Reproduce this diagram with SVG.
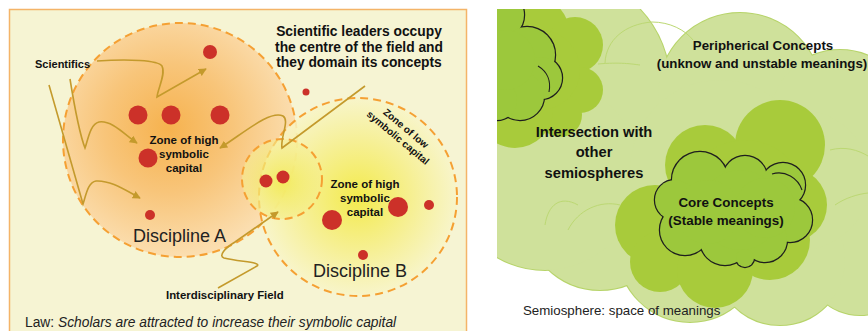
<svg xmlns="http://www.w3.org/2000/svg" width="868" height="331" viewBox="0 0 868 331">
  <style>
    .b { font-family: "Liberation Sans", Arial, sans-serif; font-weight: bold; fill: #111; }
    .r { font-family: "Liberation Sans", Arial, sans-serif; fill: #222; }
    .dash { fill: none; stroke: #f5a033; stroke-width: 2; stroke-dasharray: 8 5; }
    .dot { fill: #cc3129; }
    .arw { fill: none; stroke: #c49a2c; stroke-width: 1.6; stroke-linejoin: miter; }
    .lightS circle { fill: none; stroke: #b7d46a; stroke-width: 2; }
    .lightF circle { fill: #cfe19b; }
    .midF circle { fill: #a8cb3b; }
    .coreS circle { fill: none; stroke: #1e1e1e; stroke-width: 2.4; }
    .coreF circle { fill: #9cc83c; }
    .inner { fill: none; stroke: #bcd873; stroke-width: 1; }
    .innerD { fill: none; stroke: #1e1e1e; stroke-width: 1.1; }
  </style>
  <defs>
    <radialGradient id="gA" cx="0.45" cy="0.45" r="0.55">
      <stop offset="0" stop-color="#f6b24e"/>
      <stop offset="0.5" stop-color="#f8c57a"/>
      <stop offset="1" stop-color="#fbdeb0"/>
    </radialGradient>
    <radialGradient id="gB" cx="0.5" cy="0.5" r="0.5">
      <stop offset="0" stop-color="#f3ea45" stop-opacity="0.95"/>
      <stop offset="0.55" stop-color="#f6ef8c" stop-opacity="0.9"/>
      <stop offset="1" stop-color="#f8f5c8" stop-opacity="0.85"/>
    </radialGradient>
    <radialGradient id="gC" cx="0.5" cy="0.55" r="0.5">
      <stop offset="0" stop-color="#f2ea50" stop-opacity="0.85"/>
      <stop offset="1" stop-color="#f5ee90" stop-opacity="0.6"/>
    </radialGradient>
    <marker id="ah" viewBox="0 0 10 10" refX="9" refY="5" markerWidth="5" markerHeight="5" orient="auto" markerUnits="strokeWidth">
      <path d="M0,0 L10,5 L0,10 Z" fill="#c49a2c"/>
    </marker>
    <clipPath id="rp">
      <rect x="497" y="9" width="371" height="322"/>
    </clipPath>
  </defs>

  <rect width="868" height="331" fill="#ffffff"/>

  <!-- Left panel: disciplines as fields of symbolic capital -->
  <rect x="9.5" y="9.5" width="457" height="335" fill="#f6f4d3" stroke="#f4b468" stroke-width="1.5"/>

  <g id="disciplineA">
    <circle cx="180" cy="140" r="117" fill="url(#gA)"/>
    <circle class="dash" cx="180" cy="140" r="117"/>
  </g>
  <g id="disciplineB">
    <circle cx="358" cy="197" r="99" fill="url(#gB)"/>
    <circle class="dash" cx="358" cy="197" r="99"/>
  </g>
  <g id="interdisciplinary">
    <circle cx="282" cy="179" r="40" fill="url(#gC)"/>
    <circle class="dash" cx="282" cy="179" r="40"/>
  </g>

  <g id="actors">
    <circle class="dot" cx="210" cy="52" r="7"/>
    <circle class="dot" cx="138" cy="115" r="9.5"/>
    <circle class="dot" cx="171" cy="115" r="9.5"/>
    <circle class="dot" cx="220" cy="115" r="9.5"/>
    <circle class="dot" cx="148" cy="158" r="9.5"/>
    <circle class="dot" cx="150" cy="215" r="5"/>
    <circle class="dot" cx="306" cy="92" r="3.5"/>
    <circle class="dot" cx="266" cy="181" r="6.5"/>
    <circle class="dot" cx="283" cy="177" r="6.5"/>
    <circle class="dot" cx="332" cy="220" r="10"/>
    <circle class="dot" cx="398" cy="207" r="10"/>
    <circle class="dot" cx="429" cy="205" r="5"/>
    <circle class="dot" cx="363" cy="255" r="5"/>
  </g>

  <g id="connectors">
    <path class="arw" marker-end="url(#ah)" d="M97,61 C128,59 158,60 162,66 C166,74 158,88 157,97 L206,69"/>
    <path class="arw" marker-end="url(#ah)" d="M70,79 C75,110 80,135 85,148 C88,140 90,124 99,122 C112,120 125,135 137,143"/>
    <path class="arw" marker-end="url(#ah)" d="M49,85 L83,204 C86,195 88,182 96,181 C110,180 125,190 140,198"/>
    <path class="arw" marker-end="url(#ah)" d="M365,86 L282,148 C280,138 290,120 283,116 C270,110 245,132 220,148"/>
    <path class="arw" marker-end="url(#ah)" d="M218,288 L257,266 C262,262 240,262 224,258 C218,256 225,248 235,242 L278,212"/>
  </g>

  <g id="labelsLeft">
    <text class="b" x="35" y="68" font-size="11">Scientifics</text>
    <text class="b" x="359" y="36" font-size="13.8" text-anchor="middle">Scientific leaders occupy</text>
    <text class="b" x="359" y="52" font-size="13.8" text-anchor="middle">the centre of the field and</text>
    <text class="b" x="359" y="67" font-size="13.8" text-anchor="middle">they domain its concepts</text>
    <text class="b" x="184" y="144" font-size="11.5" text-anchor="middle">Zone of high</text>
    <text class="b" x="184" y="158" font-size="11.5" text-anchor="middle">symbolic</text>
    <text class="b" x="184" y="172" font-size="11.5" text-anchor="middle">capital</text>
    <text class="b" x="365" y="188" font-size="11.5" text-anchor="middle">Zone of high</text>
    <text class="b" x="365" y="202" font-size="11.5" text-anchor="middle">symbolic</text>
    <text class="b" x="365" y="216" font-size="11.5" text-anchor="middle">capital</text>
    <g transform="translate(402,133) rotate(40)">
      <text class="b" x="0" y="-2.6" font-size="10" text-anchor="middle">Zone of low</text>
      <text class="b" x="0" y="9.6" font-size="10" text-anchor="middle">symbolic capital</text>
    </g>
    <text class="r" x="133" y="242" font-size="18">Discipline A</text>
    <text class="r" x="313" y="277" font-size="18">Discipline B</text>
    <text class="b" x="166" y="299" font-size="11.4">Interdisciplinary Field</text>
    <text class="r" x="25" y="327" font-size="13.8">Law: <tspan font-style="italic">Scholars are attracted to increase their symbolic capital</tspan></text>
  </g>

  <!-- Right panel: semiosphere -->
  <g clip-path="url(#rp)">
    <g id="periphery">
      <g class="lightS">
        <circle cx="560" cy="85" r="110"/>
        <circle cx="740" cy="95" r="82"/>
        <circle cx="840" cy="120" r="70"/>
        <circle cx="880" cy="200" r="60"/>
        <circle cx="860" cy="260" r="55"/>
        <circle cx="780" cy="260" r="65"/>
        <circle cx="690" cy="250" r="72"/>
        <circle cx="600" cy="215" r="75"/>
        <circle cx="545" cy="175" r="95"/>
        <circle cx="720" cy="170" r="90"/>
        <circle cx="800" cy="180" r="70"/>
      </g>
      <g class="lightF">
        <circle cx="560" cy="85" r="110"/>
        <circle cx="740" cy="95" r="82"/>
        <circle cx="840" cy="120" r="70"/>
        <circle cx="880" cy="200" r="60"/>
        <circle cx="860" cy="260" r="55"/>
        <circle cx="780" cy="260" r="65"/>
        <circle cx="690" cy="250" r="72"/>
        <circle cx="600" cy="215" r="75"/>
        <circle cx="545" cy="175" r="95"/>
        <circle cx="720" cy="170" r="90"/>
        <circle cx="800" cy="180" r="70"/>
      </g>
      <path class="inner" d="M605,63 C606,40 625,24 652,22 C670,22 685,30 693,40"/>
      <path class="inner" d="M598,64 C620,62 632,64 640,65"/>
      <path class="inner" d="M545,225 C548,205 560,195 578,205"/>
      <path class="inner" d="M568,230 C578,210 600,200 620,205"/>
      <path class="inner" d="M830,150 C845,146 858,150 868,156"/>
      <path class="inner" d="M835,205 C845,198 858,194 868,193"/>
    </g>

    <g id="intersection">
      <g class="midF">
        <circle cx="530" cy="35" r="40"/>
        <circle cx="575" cy="45" r="28"/>
        <circle cx="580" cy="90" r="23"/>
        <circle cx="560" cy="115" r="22"/>
        <circle cx="515" cy="110" r="38"/>
        <circle cx="540" cy="70" r="40"/>
      </g>
      <g class="coreS">
        <circle cx="500" cy="15" r="24"/>
        <circle cx="527" cy="55" r="28"/>
        <circle cx="541" cy="78" r="21"/>
        <circle cx="520" cy="96" r="24"/>
        <circle cx="497" cy="100" r="20"/>
        <circle cx="505" cy="60" r="30"/>
      </g>
      <g class="coreF">
        <circle cx="500" cy="15" r="24"/>
        <circle cx="527" cy="55" r="28"/>
        <circle cx="541" cy="78" r="21"/>
        <circle cx="520" cy="96" r="24"/>
        <circle cx="497" cy="100" r="20"/>
        <circle cx="505" cy="60" r="30"/>
      </g>
      <path class="innerD" d="M538,66 C548,72 551,82 549,92"/>
    </g>

    <g id="core">
      <g class="midF">
        <circle cx="655" cy="225" r="40"/>
        <circle cx="660" cy="262" r="30"/>
        <circle cx="715" cy="270" r="38"/>
        <circle cx="770" cy="240" r="40"/>
        <circle cx="790" cy="205" r="37"/>
        <circle cx="780" cy="145" r="45"/>
        <circle cx="705" cy="165" r="40"/>
        <circle cx="745" cy="200" r="60"/>
      </g>
      <g class="coreS">
        <circle cx="700" cy="180" r="28"/>
        <circle cx="745" cy="178" r="22"/>
        <circle cx="783" cy="185" r="22"/>
        <circle cx="790" cy="220" r="22"/>
        <circle cx="765" cy="240" r="22"/>
        <circle cx="725" cy="240" r="25"/>
        <circle cx="685" cy="230" r="25"/>
        <circle cx="675" cy="200" r="20"/>
        <circle cx="745" cy="258" r="9"/>
        <circle cx="740" cy="210" r="40"/>
      </g>
      <g class="coreF">
        <circle cx="700" cy="180" r="28"/>
        <circle cx="745" cy="178" r="22"/>
        <circle cx="783" cy="185" r="22"/>
        <circle cx="790" cy="220" r="22"/>
        <circle cx="765" cy="240" r="22"/>
        <circle cx="725" cy="240" r="25"/>
        <circle cx="685" cy="230" r="25"/>
        <circle cx="675" cy="200" r="20"/>
        <circle cx="745" cy="258" r="9"/>
        <circle cx="740" cy="210" r="40"/>
        <circle cx="708" cy="212" r="32"/>
        <circle cx="765" cy="208" r="30"/>
      </g>
      <path class="innerD" d="M772,174 C785,170 798,178 802,190"/>
    </g>
  </g>

  <g id="labelsRight">
    <text class="b" x="763" y="50" font-size="13.3" text-anchor="middle">Peripherical Concepts</text>
    <text class="b" x="762" y="68" font-size="13.3" text-anchor="middle">(unknow and unstable meanings)</text>
    <text class="b" x="594" y="137" font-size="14.7" text-anchor="middle">Intersection with</text>
    <text class="b" x="594" y="157" font-size="14.7" text-anchor="middle">other</text>
    <text class="b" x="594" y="178" font-size="14.7" text-anchor="middle">semiospheres</text>
    <text class="b" x="726" y="207" font-size="13.4" text-anchor="middle">Core Concepts</text>
    <text class="b" x="726" y="225" font-size="13.4" text-anchor="middle">(Stable meanings)</text>
    <text class="r" x="523" y="315" font-size="13.3">Semiosphere: space of meanings</text>
  </g>
</svg>
